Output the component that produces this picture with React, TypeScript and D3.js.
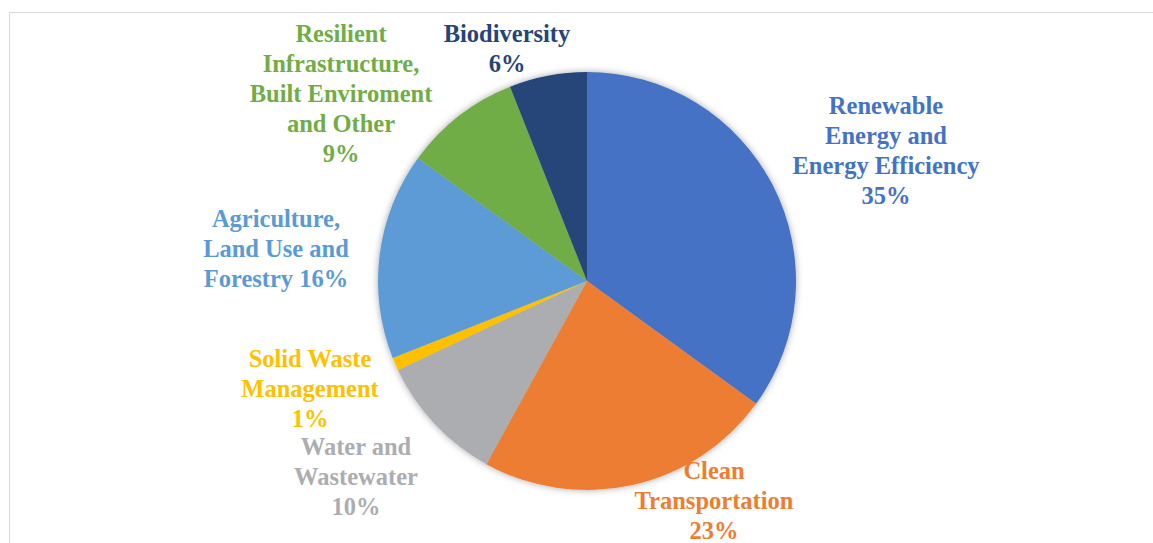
import React from "react";
import * as d3 from "d3";

// Share of green financing by category, clockwise from 12 o'clock
const categories = [
  "Renewable Energy and Energy Efficiency",
  "Clean Transportation",
  "Water and Wastewater",
  "Solid Waste Management",
  "Agriculture, Land Use and Forestry",
  "Resilient Infrastructure, Built Enviroment and Other",
  "Biodiversity",
];
const shares = [35, 23, 10, 1, 16, 9, 6];
const colors = ["#4472C4", "#ED7D31", "#ACADB0", "#FFC000", "#5B9BD5", "#70AD47", "#264478"];

// Label line breaks (the last line carries the percentage)
const labelLines = [
  ["Renewable", "Energy and", "Energy Efficiency"],
  ["Clean", "Transportation"],
  ["Water and", "Wastewater"],
  ["Solid Waste", "Management"],
  ["Agriculture,", "Land Use and", "Forestry"],
  ["Resilient", "Infrastructure,", "Built Enviroment", "and Other"],
  ["Biodiversity"],
];
// whether the percentage shares the last text line
const pctInline = [false, false, false, false, true, false, false];

// Label anchor (center x, first baseline), relative to the pie center
const labelAnchor: [number, number][] = [
  [299, -167],
  [127, 198],
  [-231, 174],
  [-277, 86],
  [-311, -54],
  [-246, -239],
  [-80, -239],
];

const W = 1153;
const H = 543;
const cx = 587;
const cy = 281;
const R = 209;
const lineH = 30;
const FONT = "'Liberation Serif', 'DejaVu Serif', serif";

export default function App() {
  const pie = d3
    .pie<number>()
    .sort(null)
    .value((d) => d)(shares);
  const arc = d3.arc<d3.PieArcDatum<number>>().innerRadius(0).outerRadius(R);

  return (
    <svg
      width={W}
      height={H}
      style={{ position: "absolute", left: 0, top: 0, background: "#fff" }}
    >
      <defs>
        <filter id="pieShadow" x="-10%" y="-10%" width="120%" height="120%">
          <feDropShadow dx="0" dy="0" stdDeviation="3.5" floodColor="#000" floodOpacity="0.35" />
        </filter>
      </defs>
      <rect x={9.5} y={12.5} width={W + 20} height={H + 20} fill="none" stroke="#d9d9d9" strokeWidth={1} />
      <g transform={`translate(${cx},${cy})`}>
        <g filter="url(#pieShadow)">
          {pie.map((p, i) => (
            <path key={categories[i]} d={arc(p) || ""} fill={colors[i]} />
          ))}
        </g>
        {pie.map((p, i) => {
          const lines = [...labelLines[i]];
          const pct = `${shares[i]}%`;
          if (pctInline[i]) lines[lines.length - 1] += ` ${pct}`;
          else lines.push(pct);
          const [lx, ly] = labelAnchor[i];
          return (
            <text
              key={categories[i]}
              x={lx}
              y={ly}
              textAnchor="middle"
              style={{ fontFamily: FONT, fontWeight: 700, fontSize: "24.5px" }}
              fill={colors[i]}
            >
              {lines.map((t, j) => (
                <tspan key={j} x={lx} dy={j === 0 ? 0 : lineH}>
                  {t}
                </tspan>
              ))}
            </text>
          );
        })}
      </g>
    </svg>
  );
}
